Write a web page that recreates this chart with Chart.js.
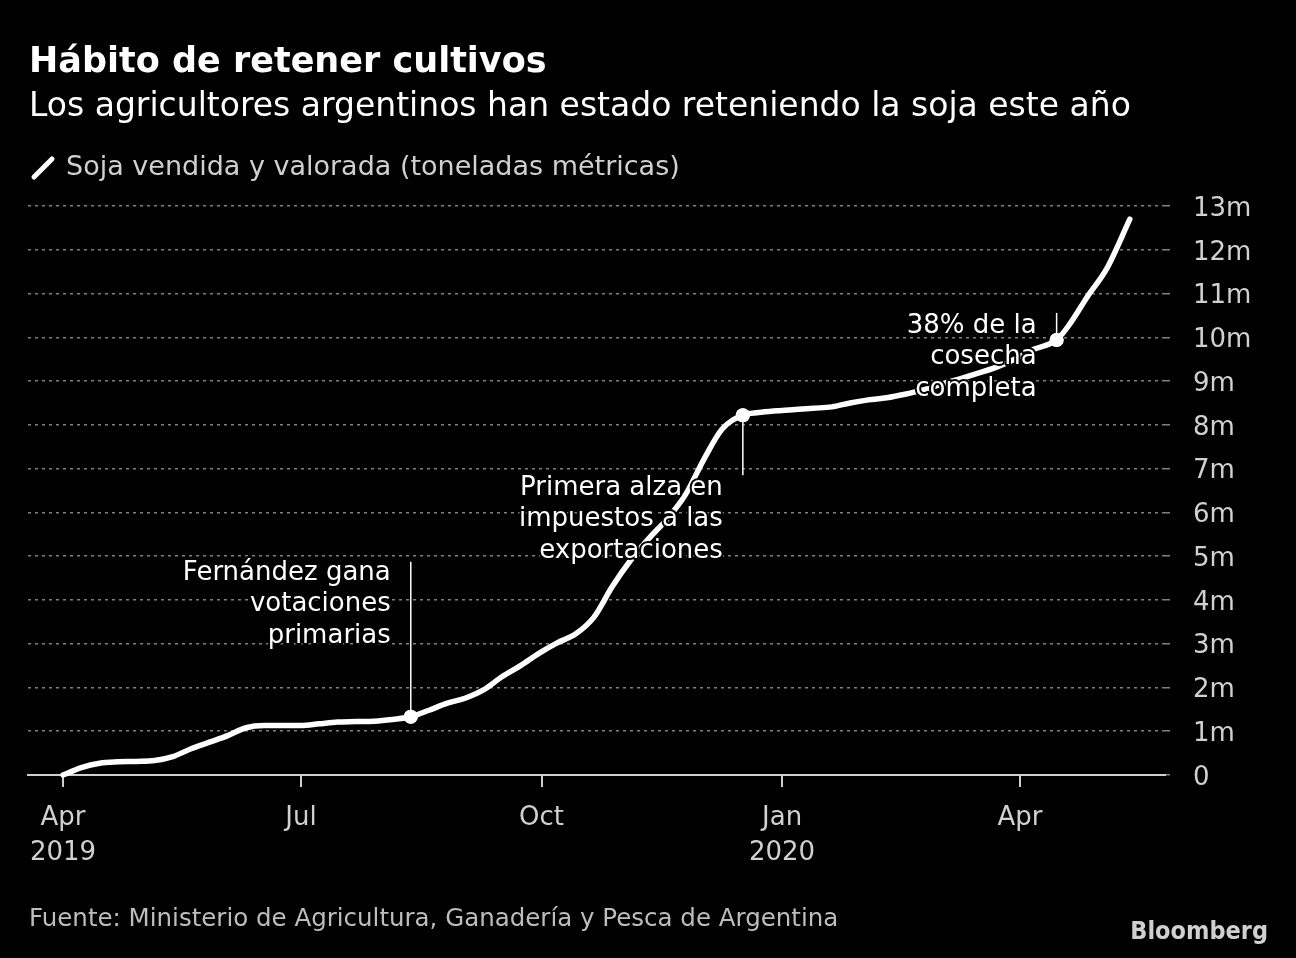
<!DOCTYPE html>
<html>
<head>
<meta charset="utf-8">
<script src="https://cdn.jsdelivr.net/npm/chart.js@4.4.1/dist/chart.umd.min.js"></script>
<style>
  html, body { margin: 0; padding: 0; background: #000; }
  #wrap { width: 1296px; height: 958px; position: relative; }
</style>
</head>
<body>
<div id="wrap"><canvas id="chart" width="1296" height="958"></canvas></div>
<script>
// weekly readings, soy sold and priced (million tonnes)
const dates = [
  "2019-04-01", "2019-04-08", "2019-04-15", "2019-04-22", "2019-04-29",
  "2019-05-06", "2019-05-13", "2019-05-20", "2019-05-27",
  "2019-06-03", "2019-06-10", "2019-06-17", "2019-06-24",
  "2019-07-01", "2019-07-08", "2019-07-15", "2019-07-22", "2019-07-29",
  "2019-08-05", "2019-08-12", "2019-08-19", "2019-08-26",
  "2019-09-02", "2019-09-09", "2019-09-16", "2019-09-23", "2019-09-30",
  "2019-10-07", "2019-10-14", "2019-10-21", "2019-10-28",
  "2019-11-04", "2019-11-11", "2019-11-18", "2019-11-25",
  "2019-12-02", "2019-12-09", "2019-12-17", "2019-12-23", "2019-12-30",
  "2020-01-06", "2020-01-13", "2020-01-20", "2020-01-27",
  "2020-02-03", "2020-02-10", "2020-02-17", "2020-02-24",
  "2020-03-02", "2020-03-09", "2020-03-16", "2020-03-23", "2020-03-30",
  "2020-04-06", "2020-04-15", "2020-04-20", "2020-04-27",
  "2020-05-04", "2020-05-13"
];
const values = [
  0.00, 0.17, 0.27, 0.30, 0.31,
  0.33, 0.42, 0.60, 0.75,
  0.90, 1.08, 1.13, 1.13,
  1.13, 1.17, 1.21, 1.22, 1.23,
  1.27, 1.33, 1.48, 1.64,
  1.76, 1.95, 2.25, 2.50, 2.78,
  3.02, 3.22, 3.60, 4.30,
  4.90, 5.40, 5.85, 6.40,
  7.20, 7.90, 8.22, 8.28, 8.32,
  8.35, 8.38, 8.41, 8.50,
  8.57, 8.62, 8.70, 8.80,
  8.93, 9.05, 9.18, 9.32, 9.50,
  9.72, 9.94, 10.30, 10.95,
  11.55, 12.70
];

const tickDates = ["2019-04-01", "2019-07-01", "2019-10-01", "2020-01-01", "2020-04-01"];
const tickLabels = [["Apr", "2019"], ["Jul"], ["Oct"], ["Jan", "2020"], ["Apr"]];
const yTicks = [0, 1, 2, 3, 4, 5, 6, 7, 8, 9, 10, 11, 12, 13];

const markerDates = ["2019-08-12", "2019-12-17", "2020-04-15"];
const markerLabels = [
  ["Fernández gana", "votaciones", "primarias"],
  ["Primera alza en", "impuestos a las", "exportaciones"],
  ["38% de la", "cosecha", "completa"]
];

const FONT = "'DejaVu Sans', sans-serif";

const start = Date.UTC(2019, 3, 1);
function dayOf(s) {
  const p = s.split("-");
  return (Date.UTC(+p[0], +p[1] - 1, +p[2]) - start) / 864e5;
}

const points = dates.map((d, i) => ({ x: dayOf(d), y: values[i] }));
const radii = dates.map(d => markerDates.includes(d) ? 7 : 0);

// annotation layout: leader line end (px offset from marker) and first text line offset
const noteLayout = [
  { lineTo: -155, textTop: -144 },
  { lineTo: 60, textTop: 73 },
  { lineTo: -27, textTop: -14 }
];

const textPlugin = {
  id: "texts",
  beforeDraw(chart) {
    const ctx = chart.ctx;
    ctx.save();
    ctx.fillStyle = "#000";
    ctx.fillRect(0, 0, chart.width, chart.height);
    ctx.textBaseline = "middle";
    ctx.textAlign = "left";

    ctx.fillStyle = "#fff";
    ctx.font = "bold 35px " + FONT;
    ctx.fillText("Hábito de retener cultivos", 29, 63);

    ctx.font = "33px " + FONT;
    ctx.fillText("Los agricultores argentinos han estado reteniendo la soja este año", 29, 107);

    // legend swatch
    ctx.strokeStyle = "#fff";
    ctx.lineWidth = 5;
    ctx.lineCap = "round";
    ctx.beginPath();
    ctx.moveTo(34, 177);
    ctx.lineTo(52, 159);
    ctx.stroke();
    ctx.fillStyle = "#d0d0d0";
    ctx.font = "27px " + FONT;
    ctx.fillText("Soja vendida y valorada (toneladas métricas)", 66, 168);

    ctx.fillStyle = "#bdbdbd";
    ctx.font = "24.5px " + FONT;
    ctx.fillText("Fuente: Ministerio de Agricultura, Ganadería y Pesca de Argentina", 29, 920);

    ctx.fillStyle = "#d0d0d0";
    ctx.font = "bold 25px 'DejaVu Sans Condensed', sans-serif";
    ctx.textAlign = "right";
    ctx.fillText("Bloomberg", 1268, 932);
    ctx.restore();
  },
  afterDatasetsDraw(chart) {
    const ctx = chart.ctx;
    const xs = chart.scales.x, ys = chart.scales.y;
    ctx.save();
    markerDates.forEach((d, k) => {
      const i = dates.indexOf(d);
      const px = xs.getPixelForValue(dayOf(d));
      const py = ys.getPixelForValue(values[i]);
      const lay = noteLayout[k];
      ctx.strokeStyle = "#fff";
      ctx.lineWidth = 1.5;
      ctx.beginPath();
      ctx.moveTo(px, py);
      ctx.lineTo(px, py + lay.lineTo);
      ctx.stroke();

      ctx.font = "26px " + FONT;
      ctx.textAlign = "right";
      ctx.textBaseline = "middle";
      ctx.lineJoin = "round";
      markerLabels[k].forEach((t, j) => {
        const ty = py + lay.textTop + j * 31.5;
        ctx.strokeStyle = "#000";
        ctx.lineWidth = 4;
        ctx.strokeText(t, px - 20, ty);
        ctx.fillStyle = "#fff";
        ctx.fillText(t, px - 20, ty);
      });

      ctx.fillStyle = "#fff";
      ctx.beginPath();
      ctx.arc(px, py, 7, 0, Math.PI * 2);
      ctx.fill();
    });
    ctx.restore();
  }
};

new Chart(document.getElementById("chart"), {
  type: "line",
  data: {
    datasets: [{
      data: points,
      borderColor: "#fff",
      borderWidth: 5.5,
      borderCapStyle: "round",
      borderJoinStyle: "round",
      cubicInterpolationMode: "monotone",
      pointRadius: radii,
      pointBackgroundColor: "#fff",
      pointBorderWidth: 0,
      clip: false
    }]
  },
  options: {
    responsive: false,
    animation: false,
    layout: { padding: { left: 28, top: 206, right: 0, bottom: 0 } },
    plugins: { legend: { display: false }, tooltip: { enabled: false } },
    scales: {
      x: {
        type: "linear",
        min: -13.39,
        max: 421.45,
        afterBuildTicks: s => { s.ticks = tickDates.map(d => ({ value: dayOf(d) })); },
        afterFit: s => { s.height = 183; },
        grid: { drawOnChartArea: false, drawTicks: true, tickLength: 12, color: "#cfcfcf", lineWidth: 2 },
        border: { display: true, color: "#cfcfcf", width: 2 },
        ticks: {
          autoSkip: false,
          maxRotation: 0,
          padding: 14,
          color: "#d0d0d0",
          font: { family: FONT, size: 26, lineHeight: 1.35 },
          callback: (v, i) => tickLabels[i]
        }
      },
      y: {
        position: "right",
        min: 0,
        max: 13,
        afterBuildTicks: s => { s.ticks = yTicks.map(v => ({ value: v })); },
        afterFit: s => { s.width = 131; },
        grid: { color: "rgba(255,255,255,0.5)", lineWidth: 1.5, drawTicks: true, tickLength: 5 },
        border: { display: false, dash: [3, 4] },
        ticks: {
          padding: 23,
          labelOffset: 3,
          color: "#d0d0d0",
          font: { family: FONT, size: 26 },
          callback: v => v === 0 ? "0" : v + "m"
        }
      }
    }
  },
  plugins: [textPlugin]
});
</script>
</body>
</html>
